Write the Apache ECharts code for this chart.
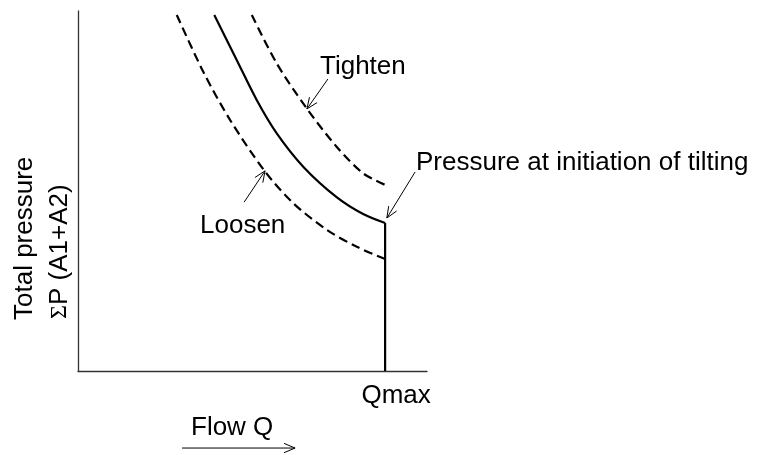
<!DOCTYPE html>
<html>
<head>
<meta charset="utf-8">
<script src="https://cdn.jsdelivr.net/npm/echarts@6/dist/echarts.min.js"></script>
<style>
html,body{margin:0;padding:0;background:#fff;}
#chart{width:763px;height:455px;}
</style>
</head>
<body>
<div id="chart"></div>
<script>
// Qmax position on the flow axis (arbitrary units 0..100)
const QMAX = 88;
// Nominal curve: pressure at initiation of tilting
const nominalQ = [39.05, 45.47, 51.2, 56.9, 64.6, 74.1, 81.7, 88.0];
const nominalP = [98.9, 86.4, 75.3, 66.1, 56.7, 48.3, 43.6, 41.1];
// Loosen curve
const loosenQ = [28.3, 35.9, 43.6, 53.6, 61.7, 71.3, 79.9, 88.0];
const loosenP = [98.9, 83.1, 69.7, 55.4, 46.6, 39.2, 34.5, 31.1];
// Tighten curve
const tightenQ = [49.8, 56.9, 65.5, 74.1, 81.7, 88.0];
const tightenP = [98.9, 85.5, 73.0, 62.3, 54.9, 51.7];
// Vertical limit at Qmax
const limitQ = [88.0, 88.0];
const limitP = [41.1, 0];
// Annotation arrows: [tailQ, tailP, headQ, headP]
const arrowTighten = [71.6, 81.1, 65.6, 72.8];
const arrowLoosen = [47.6, 46.9, 53.6, 55.6];
const arrowPressure = [96.6, 55.3, 88.5, 42.5];
const arrowFlow = [29.8, -21.4, 62.2, -21.4];
// Labels
const xTickLabel = 'Qmax';
const labelTighten = 'Tighten';
const labelLoosen = 'Loosen';
const labelPressure = 'Pressure at initiation of tilting';
const labelFlow = 'Flow Q';
const labelY1 = 'Total pressure';
const labelY2 = 'P (A1+A2)';

const zip = (a, b) => a.map((v, i) => [v, b[i]]);
const FONT = '"Liberation Sans", Arial, Helvetica, sans-serif';
const FS = 26;

const chart = echarts.init(document.getElementById('chart'), null, {renderer: 'canvas'});

function arrowItem(params, api) {
  const p1 = api.coord([api.value(0), api.value(1)]);
  const p2 = api.coord([api.value(2), api.value(3)]);
  const ang = Math.atan2(p2[1] - p1[1], p2[0] - p1[0]);
  const L = 12, a = 0.4;
  const h1 = [p2[0] - L * Math.cos(ang - a), p2[1] - L * Math.sin(ang - a)];
  const h2 = [p2[0] - L * Math.cos(ang + a), p2[1] - L * Math.sin(ang + a)];
  return {
    type: 'group',
    children: [
      {type: 'line', shape: {x1: p1[0], y1: p1[1], x2: p2[0], y2: p2[1]}, style: {stroke: '#000', lineWidth: 1}},
      {type: 'polyline', shape: {points: [h1, p2, h2]}, style: {stroke: '#000', fill: null, lineWidth: 1}}
    ]
  };
}

const txt = (text, x, y, rotation) => ({
  type: 'text', x: x, y: y, rotation: rotation || 0,
  style: {text: text, fill: '#000', fontSize: FS, fontFamily: FONT, align: 'left', verticalAlign: 'middle'}
});

const curveStyle = {smooth: 0.3, showSymbol: false, symbol: 'none'};

chart.setOption({
  animation: false,
  backgroundColor: '#fff',
  grid: {left: 78, right: 336, top: 11, bottom: 84, containLabel: false},
  xAxis: {
    type: 'value', min: 0, max: 100, interval: QMAX,
    axisLine: {show: true, lineStyle: {color: '#333', width: 1.3}},
    axisTick: {show: false},
    splitLine: {show: false},
    axisLabel: {
      show: true, color: '#000', fontFamily: FONT, fontSize: FS, margin: 12,
      align: 'center', padding: [0, 0, 0, 22],
      formatter: v => (v === QMAX ? xTickLabel : '')
    }
  },
  yAxis: {
    type: 'value', min: 0, max: 100,
    axisLine: {show: true, lineStyle: {color: '#333', width: 1.3}},
    axisTick: {show: false},
    splitLine: {show: false},
    axisLabel: {show: false}
  },
  series: [
    Object.assign({type: 'line', data: zip(nominalQ, nominalP),
     lineStyle: {color: '#000', width: 2.2}}, curveStyle),
    {type: 'line', data: zip(limitQ, limitP), showSymbol: false, symbol: 'none',
     lineStyle: {color: '#000', width: 2.2}},
    Object.assign({type: 'line', data: zip(loosenQ, loosenP),
     lineStyle: {color: '#000', width: 2.2, type: [9, 5]}}, curveStyle),
    Object.assign({type: 'line', data: zip(tightenQ, tightenP),
     lineStyle: {color: '#000', width: 2.2, type: [9, 5]}}, curveStyle),
    {type: 'custom', renderItem: arrowItem, clip: false,
     data: [arrowTighten, arrowLoosen, arrowPressure, arrowFlow]}
  ],
  graphic: [
    txt(labelTighten, 320, 66.5),
    txt(labelLoosen, 200, 226),
    txt(labelPressure, 416, 163),
    txt(labelFlow, 191, 428),
    txt(labelY1, 25, 320, Math.PI / 2),
    {
      type: 'text', x: 60, y: 319, rotation: Math.PI / 2,
      style: {
        text: '{s|Σ}{n|' + labelY2 + '}', align: 'left', verticalAlign: 'middle',
        rich: {
          s: {fontFamily: '"Liberation Serif", "DejaVu Serif", serif', fontSize: FS - 2, fill: '#000'},
          n: {fontFamily: FONT, fontSize: FS, fill: '#000'}
        }
      }
    }
  ]
});
</script>
</body>
</html>
